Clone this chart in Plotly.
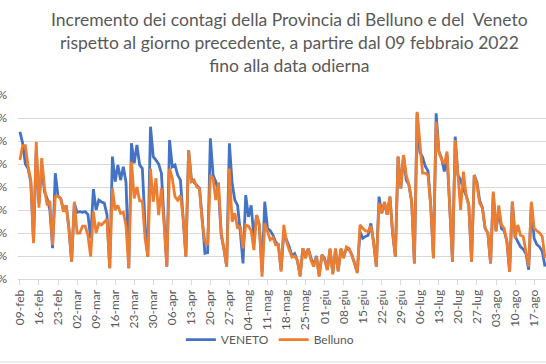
import pandas as pd
import plotly.graph_objects as go

start_date = "2022-02-09"
n_days = 194
dates = pd.date_range(start_date, periods=n_days, freq="D")

veneto = [
    6.4, 5.9, 5.0, 4.8, 4.2, 1.6, 5.6, 3.3, 5.0, 3.8,
    3.5, 3.0, 1.34, 4.6, 3.6, 3.5, 3.0, 3.2, 2.2, 0.75,
    3.3, 2.9, 2.93, 2.9, 2.93, 2.8, 1.77, 3.91, 3.0, 3.43,
    3.35, 3.3, 2.8, 0.48, 5.32, 4.23, 4.96, 4.3, 4.88, 4.2,
    0.48, 5.9, 5.03, 5.83, 4.96, 4.8, 2.35, 0.97, 6.62, 5.32,
    5.17, 5.0, 4.6, 2.35, 0.54, 6.04, 4.88, 4.96, 4.52, 4.3,
    2.64, 0.97, 5.6, 4.38, 4.2, 4.05, 3.94, 2.64, 1.12, 1.15,
    6.12, 4.52, 4.23, 3.8, 1.9, 1.3, 0.54, 5.9, 4.16, 3.43,
    3.2, 2.06, 0.68, 3.65, 2.7, 3.2, 1.8, 2.78, 2.3, 0.3,
    3.36, 2.2, 2.1, 1.91, 1.6, 1.48, 0.4, 2.0, 1.7, 1.4,
    1.0, 1.1, 0.8, 0.15, 1.33, 1.0, 1.33, 0.9, 0.6, 1.0,
    0.15, 1.05, 0.9, 0.4, 1.3, 0.25, 1.25, 0.35, 1.3, 1.0,
    1.3, 1.3, 1.05, 0.7, 0.3, 2.06, 1.77, 1.85, 1.9, 2.42,
    1.6, 0.54, 3.58, 2.86, 3.3, 2.8, 3.58, 2.0, 0.97, 5.32,
    3.94, 5.39, 4.3, 4.09, 3.36, 0.68, 7.2, 5.5, 5.3, 4.9,
    4.7, 3.2, 0.9, 7.2, 5.54, 5.25, 4.67, 5.4, 2.78, 0.75,
    6.19, 4.52, 4.3, 3.9, 3.65, 3.2, 0.75, 4.52, 4.2, 3.4,
    3.1, 2.2, 2.0, 0.68, 3.75, 2.1, 3.0, 2.2, 2.1, 1.64,
    0.32, 3.36, 1.85, 1.6, 1.4, 1.3, 1.1, 0.4, 3.3, 1.77,
    1.5, 1.4, 1.2, 0.54,
]

belluno = [
    5.17, 5.8, 5.8, 4.9, 4.3, 1.56, 5.97, 3.1, 5.26, 4.0,
    3.2, 3.4, 1.48, 3.58, 3.6, 3.5, 2.93, 3.2, 2.2, 0.75,
    3.36, 2.0, 2.0, 2.3, 2.3, 1.9, 0.97, 2.93, 2.0, 2.42,
    2.35, 2.5, 2.6, 0.46, 3.94, 3.0, 3.2, 2.85, 2.9, 2.3,
    0.46, 5.1, 3.5, 4.0, 3.4, 3.4, 1.77, 0.97, 4.8, 3.36,
    4.38, 2.78, 3.94, 2.35, 0.54, 4.8, 4.38, 3.58, 3.43, 3.65,
    2.64, 0.97, 5.6, 4.23, 4.3, 4.0, 3.94, 2.49, 1.62, 1.48,
    4.52, 4.38, 3.43, 4.2, 2.0, 1.3, 0.54, 4.8, 2.49, 2.86,
    2.2, 2.3, 1.33, 2.35, 2.3, 2.1, 1.26, 2.78, 2.4, 0.1,
    2.42, 2.06, 1.7, 1.8, 1.48, 1.5, 0.32, 2.35, 1.62, 1.26,
    0.95, 1.0, 0.8, 0.1, 1.33, 0.9, 1.33, 0.8, 0.54, 0.97,
    0.1, 1.05, 0.82, 0.39, 1.33, 0.2, 1.33, 0.32, 1.33, 0.9,
    1.4, 1.33, 1.05, 0.7, 0.25, 2.35, 2.2, 2.1, 2.06, 2.3,
    1.6, 0.54, 3.3, 2.86, 3.36, 2.8, 3.58, 2.0, 0.97, 5.32,
    3.94, 5.39, 4.52, 4.09, 3.36, 0.68, 7.27, 5.97, 4.6, 4.6,
    4.52, 3.2, 0.9, 6.84, 5.54, 5.2, 5.0, 5.54, 2.78, 0.75,
    6.04, 4.52, 3.0, 4.67, 3.65, 3.2, 0.75, 4.52, 4.09, 3.29,
    3.1, 2.2, 2.0, 0.68, 3.8, 2.06, 3.2, 2.35, 2.2, 1.64,
    0.32, 3.36, 1.77, 2.35, 1.9, 1.85, 1.19, 0.54, 3.36, 2.2,
    2.1, 2.0, 1.85, 0.9,
]

tick_labels = [
    "09-feb", "16-feb", "23-feb", "02-mar", "09-mar", "16-mar", "23-mar",
    "30-mar", "06-apr", "13-apr", "20-apr", "27-apr", "04-mag", "11-mag",
    "18-mag", "25-mag", "01-giu", "08-giu", "15-giu", "22-giu", "29-giu",
    "06-lug", "13-lug", "20-lug", "27-lug", "03-ago", "10-ago", "17-ago",
]
y_ticks = [0, 1, 2, 3, 4, 5, 6, 7, 8]
y_tick_labels = ["0%", "1%", "2%", "3%", "4%", "5%", "6%", "7%", "8%"]

title_lines = [
    "Incremento dei contagi della Provincia di Belluno e del  Veneto",
    "rispetto al giorno precedente, a partire dal 09 febbraio 2022",
    "fino alla data odierna",
]

tick_dates = [dates[0] + pd.Timedelta(days=7 * i) for i in range(len(tick_labels))]

FONT = "Lato"
GREY = "#595959"

fig = go.Figure()
fig.add_trace(go.Scatter(x=dates, y=veneto, mode="lines", name="VENETO",
                         line=dict(color="#4472C4", width=2.8)))
fig.add_trace(go.Scatter(x=dates, y=belluno, mode="lines", name="Belluno",
                         line=dict(color="#ED7D31", width=2.8)))

fig.update_layout(
    template="none",
    width=546, height=364,
    margin=dict(l=18, r=0, t=95, b=85, autoexpand=False),
    paper_bgcolor="white", plot_bgcolor="white",
    font=dict(family=FONT, color=GREY, size=12),
    showlegend=True,
    legend=dict(orientation="h", x=0.477, xanchor="center", y=-0.33, yanchor="middle",
                font=dict(family=FONT, size=12, color=GREY), bgcolor="rgba(0,0,0,0)",
                itemwidth=30),
)
fig.add_annotation(
    text="<br>".join(title_lines), xref="paper", yref="paper",
    x=(289 - 18) / 528, y=(279 - 7) / 184, xanchor="center", yanchor="top",
    showarrow=False, align="center",
    font=dict(family=FONT, size=17.5, color=GREY),
)
fig.update_xaxes(
    type="date",
    range=[dates[0] - pd.Timedelta(hours=17), dates[0] + pd.Timedelta(hours=int(193.4 * 24))],
    tickvals=tick_dates, ticktext=tick_labels, tickangle=-90,
    showgrid=False, showline=True, linecolor="#D9D9D9", linewidth=1,
    ticks="outside", ticklen=5, tickcolor="#D9D9D9",
    tickfont=dict(family=FONT, size=12, color=GREY),
    automargin=False, zeroline=False,
)
fig.update_yaxes(
    range=[0, 8], tickvals=y_ticks, ticktext=y_tick_labels,
    showgrid=True, gridcolor="#D9D9D9", gridwidth=1,
    showline=False, zeroline=False, ticks="",
    ticklabelstandoff=10,
    tickfont=dict(family=FONT, size=12, color=GREY),
    automargin=False,
)
fig.add_shape(type="line", xref="paper", yref="paper", x0=-0.04, x1=1.0,
              y0=-0.451, y1=-0.451, line=dict(color="#D9D9D9", width=1))

fig.write_html("out.html", config={"displayModeBar": False},
               post_script="document.body.style.margin='0';")
